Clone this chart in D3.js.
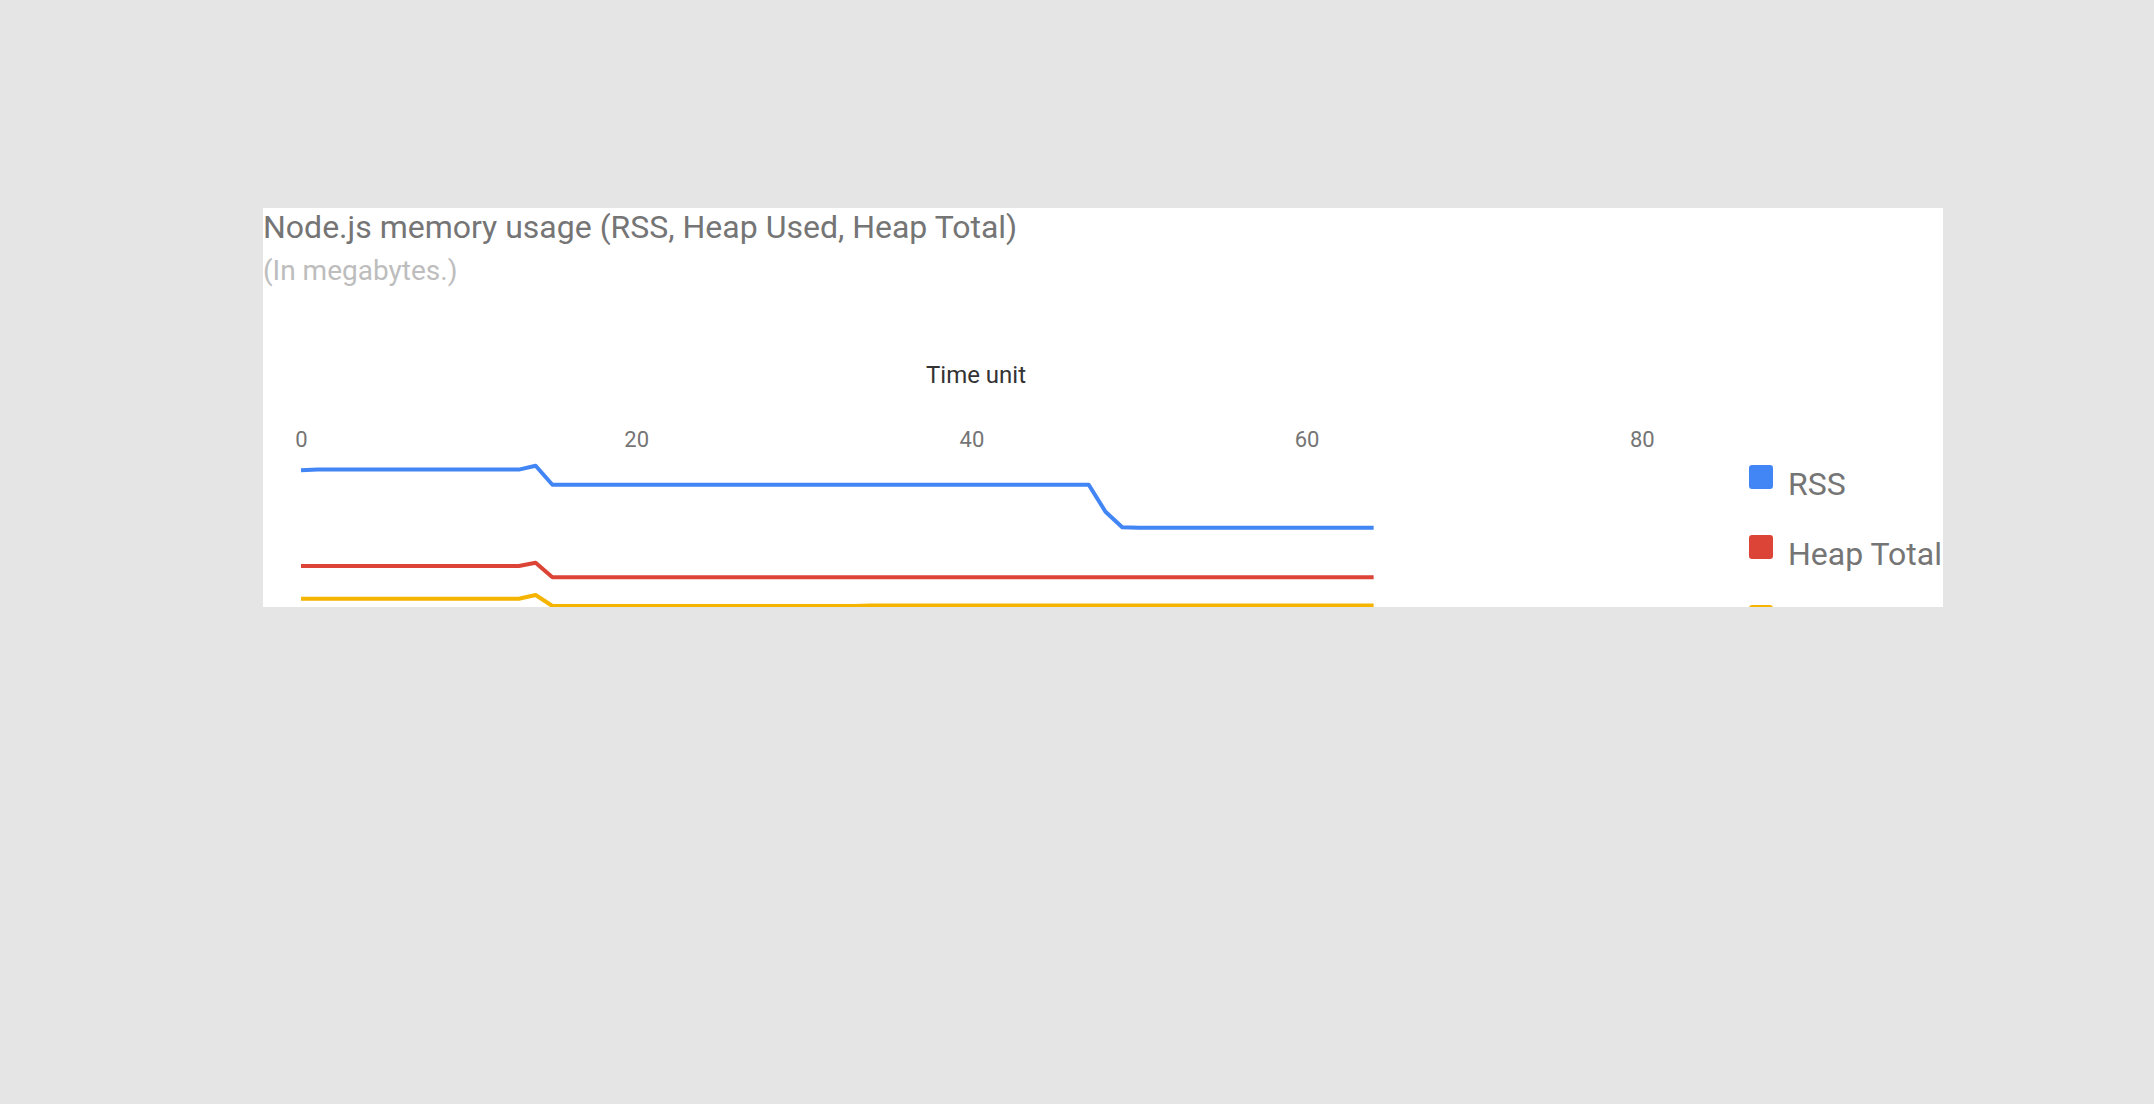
<!DOCTYPE html>
<html>
<head>
<meta charset="utf-8">
<script src="https://cdn.jsdelivr.net/npm/d3@7"></script>
<style>
  html, body { margin: 0; padding: 0; background: #e5e5e5; }
  svg { display: block; }
  text { font-family: Roboto, "Noto Sans", sans-serif; }
</style>
</head>
<body>
<svg id="chart" width="2154" height="1104"></svg>
<script>
// ---- data ----
const titleText = "Node.js memory usage (RSS, Heap Used, Heap Total)";
const subtitleText = "(In megabytes.)";
const xAxisTitle = "Time unit";
const xTicks = [0, 20, 40, 60, 80];
const seriesNames = ["RSS", "Heap Total", "Heap Used"];
const seriesColors = ["#4285f4", "#db4437", "#f4b400"];

// time units 0..64, values in MB
const timeUnits = d3.range(0, 65);
const rss = [
  88.25, 88.55, 88.55, 88.55, 88.55, 88.55, 88.55, 88.55, 88.55, 88.55,
  88.55, 88.55, 88.55, 88.55, 90.5, 81.0, 81.0, 81.0, 81.0, 81.0,
  81.0, 81.0, 81.0, 81.0, 81.0, 81.0, 81.0, 81.0, 81.0, 81.0,
  81.0, 81.0, 81.0, 81.0, 81.0, 81.0, 81.0, 81.0, 81.0, 81.0,
  81.0, 81.0, 81.0, 81.0, 81.0, 81.0, 81.0, 81.0, 67.5, 59.7,
  59.45, 59.45, 59.45, 59.45, 59.45, 59.45, 59.45, 59.45, 59.45, 59.45,
  59.45, 59.45, 59.45, 59.45, 59.45
];
const heapTotal = [
  40.35, 40.35, 40.35, 40.35, 40.35, 40.35, 40.35, 40.35, 40.35, 40.35,
  40.35, 40.35, 40.35, 40.35, 42.0, 34.7, 34.7, 34.7, 34.7, 34.7,
  34.7, 34.7, 34.7, 34.7, 34.7, 34.7, 34.7, 34.7, 34.7, 34.7,
  34.7, 34.7, 34.7, 34.7, 34.7, 34.7, 34.7, 34.7, 34.7, 34.7,
  34.7, 34.7, 34.7, 34.7, 34.7, 34.7, 34.7, 34.7, 34.7, 34.7,
  34.7, 34.7, 34.7, 34.7, 34.7, 34.7, 34.7, 34.7, 34.7, 34.7,
  34.7, 34.7, 34.7, 34.7, 34.7
];
const heapUsed = [
  24.0, 24.0, 24.0, 24.0, 24.0, 24.0, 24.0, 24.0, 24.0, 24.0,
  24.0, 24.0, 24.0, 24.0, 25.85, 20.35, 20.35, 20.35, 20.35, 20.35,
  20.35, 20.35, 20.35, 20.35, 20.35, 20.35, 20.35, 20.35, 20.35, 20.35,
  20.35, 20.35, 20.35, 20.35, 20.55, 20.55, 20.55, 20.55, 20.55, 20.55,
  20.55, 20.55, 20.55, 20.55, 20.55, 20.55, 20.55, 20.55, 20.55, 20.55,
  20.55, 20.55, 20.55, 20.55, 20.55, 20.55, 20.55, 20.55, 20.55, 20.55,
  20.55, 20.55, 20.55, 20.55, 20.55
];
const seriesValues = [rss, heapTotal, heapUsed];

// ---- layout ----
const panel = { x: 263, y: 208, w: 1680, h: 399 };
const svg = d3.select("#chart");

svg.append("rect").attr("x", 0).attr("y", 0).attr("width", 2154).attr("height", 1104).attr("fill", "#e5e5e5");

svg.append("defs").append("clipPath").attr("id", "panelClip")
  .append("rect").attr("x", panel.x).attr("y", panel.y).attr("width", panel.w).attr("height", panel.h);

const g = svg.append("g").attr("clip-path", "url(#panelClip)");
g.append("rect").attr("x", panel.x).attr("y", panel.y).attr("width", panel.w).attr("height", panel.h).attr("fill", "#ffffff");

// titles
g.append("text").attr("x", 263).attr("y", 237.5)
  .attr("font-size", 32).attr("fill", "#757575").text(titleText);
g.append("text").attr("x", 263).attr("y", 280)
  .attr("font-size", 28).attr("fill", "#bdbdbd").text(subtitleText);

// scales
const x = d3.scaleLinear().domain([0, 80]).range([301, 1641.8]);
const y = d3.scaleLinear().domain([0, 100]).range([646.7, 446.7]);

// axis title
g.append("text").attr("x", 976).attr("y", 383)
  .attr("text-anchor", "middle").attr("font-size", 24).attr("fill", "#333333").text(xAxisTitle);

// top axis
const axis = d3.axisTop(x).tickValues(xTicks).tickSize(0).tickPadding(0).tickFormat(d3.format("d"));
const ax = g.append("g").attr("transform", "translate(0,447)").call(axis);
ax.select(".domain").remove();
ax.selectAll("text").attr("font-size", 22).attr("fill", "#757575")
  .attr("font-family", "Roboto, 'Noto Sans', sans-serif").attr("dy", "0");

// lines
const line = d3.line().x((d, i) => x(timeUnits[i])).y(d => y(d));
seriesValues.forEach((vals, si) => {
  g.append("path").datum(vals)
    .attr("fill", "none")
    .attr("stroke", seriesColors[si])
    .attr("stroke-width", 4)
    .attr("stroke-linejoin", "round")
    .attr("d", line);
});

// legend
const legend = g.append("g");
seriesNames.forEach((name, i) => {
  const ly = 465 + i * 70;
  legend.append("rect").attr("x", 1749).attr("y", ly).attr("width", 24).attr("height", 24)
    .attr("rx", 3).attr("fill", seriesColors[i]);
  legend.append("text").attr("x", 1788).attr("y", ly + 30)
    .attr("font-size", 32).attr("fill", "#757575").text(name);
});
</script>
</body>
</html>
